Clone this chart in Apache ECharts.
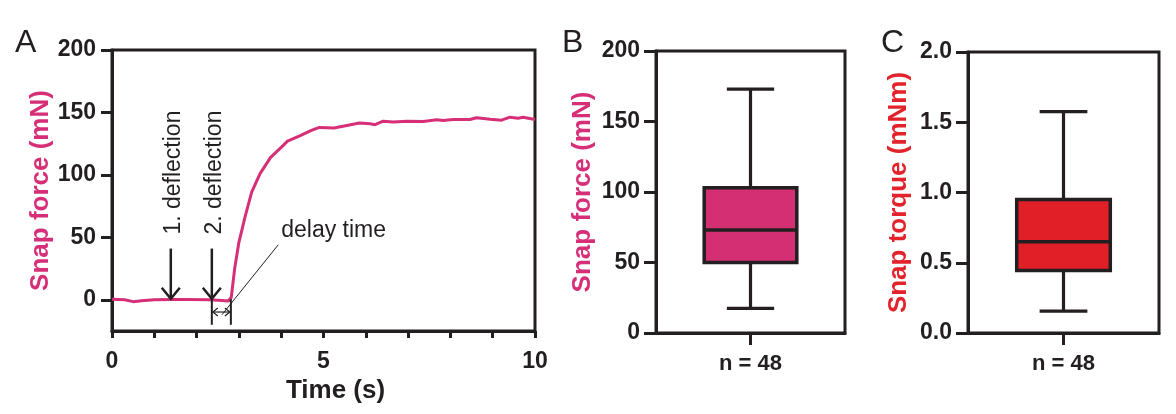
<!DOCTYPE html>
<html><head><meta charset="utf-8">
<script src="https://cdn.jsdelivr.net/npm/echarts@6/dist/echarts.min.js"></script>
<style>html,body{margin:0;padding:0;background:#fff}#c{width:1176px;height:414px}</style>
</head><body><div id="c"></div>
<script>
// ---- Data ----
const timeS   = [0, 0.3, 0.5, 0.7, 1.0, 1.4, 1.8, 2.3, 2.6, 2.75, 2.82, 2.9, 3.0, 3.15, 3.3, 3.5, 3.75, 4.0, 4.15, 4.45, 4.7, 4.9, 5.25, 5.55, 5.85, 6.1, 6.22, 6.41, 6.65, 6.97, 7.36, 7.68, 7.83, 8.07, 8.46, 8.62, 8.94, 9.21, 9.41, 9.6, 9.72, 10];
const forceMN = [0.5, 0, -1.5, -0.8, 0, 0.3, 0.2, 0, -0.5, -1, 2, 25, 46, 67, 86, 101, 114, 122, 127, 131.5, 135.5, 138, 137.5, 139.5, 141.5, 141, 140.2, 143, 142.3, 143, 142.8, 144.2, 143.6, 144.4, 144.4, 145.7, 144.6, 143.8, 146.2, 145.4, 146.2, 144.4];
const xTicksA = [0, 5, 10];
const yTicksA = [0, 50, 100, 150, 200];
const boxCategories = ['n = 48'];
// [min, Q1, median, Q3, max]
const snapForceBox  = [17.5, 50, 73, 103, 173];
const snapTorqueBox = [0.155, 0.445, 0.65, 0.95, 1.575];
// annotation anchors (data units of panel A)
const deflectionX = [1.39, 2.36];
const deflectionLabels = ['1. deflection', '2. deflection'];
const arrowTopMN = 41;
const delayX = [2.36, 2.81];
const delayLineBottomMN = -20;
const delayArrowMN = -9.8;
const leaderFrom = [2.6, -12];
const leaderTo = [3.93, 44];
const delayLabel = 'delay time';
const delayLabelAt = [4.0, 55.6];

// ---- Styles ----
const INK = '#231f20';
const FONT = '"Liberation Sans", Arial, Helvetica, sans-serif';
const MAGENTA = '#d62f78';
const BOX_B = '#d42f72';
const BOX_C = '#e11f27';
const NAME_C = '#e3232b';

function axisCommon() {
  return {
    axisLine: { show: true, onZero: false, lineStyle: { color: INK, width: 3 } },
    axisTick: { show: true, lineStyle: { color: INK, width: 3 } },
    axisLabel: { color: INK, fontFamily: FONT, fontWeight: 'bold', fontSize: 23 },
    splitLine: { show: false },
    nameTextStyle: { fontFamily: FONT, fontWeight: 'bold', fontSize: 26 }
  };
}

function boxRender() {
  return function (params, api) {
    const cat = api.value(0);
    const pMin = api.coord([cat, api.value(1)]);
    const pQ1 = api.coord([cat, api.value(2)]);
    const pMed = api.coord([cat, api.value(3)]);
    const pQ3 = api.coord([cat, api.value(4)]);
    const pMax = api.coord([cat, api.value(5)]);
    const band = api.size([1, 0])[0];
    const bw = band * 0.49, cw = band * 0.25;
    const cx = pMed[0];
    const ls = { stroke: INK, lineWidth: 3.2 };
    return {
      type: 'group',
      children: [
        { type: 'line', shape: { x1: cx, y1: pMax[1], x2: cx, y2: pQ3[1] }, style: ls },
        { type: 'line', shape: { x1: cx, y1: pQ1[1], x2: cx, y2: pMin[1] }, style: ls },
        { type: 'line', shape: { x1: cx - cw / 2, y1: pMax[1], x2: cx + cw / 2, y2: pMax[1] }, style: ls },
        { type: 'line', shape: { x1: cx - cw / 2, y1: pMin[1], x2: cx + cw / 2, y2: pMin[1] }, style: ls },
        { type: 'rect', shape: { x: cx - bw / 2, y: pQ3[1], width: bw, height: pQ1[1] - pQ3[1] },
          style: { fill: api.visual('color'), stroke: INK, lineWidth: 3.5 } },
        { type: 'line', shape: { x1: cx - bw / 2, y1: pMed[1], x2: cx + bw / 2, y2: pMed[1] }, style: { stroke: INK, lineWidth: 3.5 } }
      ]
    };
  };
}

function annotationRender(params, api) {
  const ch = [];
  const thick = { stroke: INK, lineWidth: 2.5 };
  deflectionX.forEach((x, i) => {
    const top = api.coord([x, arrowTopMN]);
    const tip = api.coord([x, 0]);
    ch.push({ type: 'line', shape: { x1: top[0], y1: top[1], x2: tip[0], y2: tip[1] - 1 }, style: thick });
    ch.push({ type: 'polyline', shape: { points: [[tip[0] - 9, tip[1] - 12], [tip[0], tip[1] - 1], [tip[0] + 9, tip[1] - 12]] }, style: { stroke: INK, lineWidth: 2.5, fill: null } });
    ch.push({ type: 'text', x: top[0] + 3, y: top[1] - 14, rotation: Math.PI / 2,
      style: { text: deflectionLabels[i], fill: INK, font: '23px ' + FONT, align: 'left', verticalAlign: 'middle' } });
  });
  delayX.forEach(x => {
    const a = api.coord([x, 0.5]);
    const b = api.coord([x, delayLineBottomMN]);
    ch.push({ type: 'line', shape: { x1: a[0], y1: a[1], x2: b[0], y2: b[1] }, style: { stroke: INK, lineWidth: 2 } });
  });
  const l = api.coord([delayX[0], delayArrowMN]);
  const r = api.coord([delayX[1], delayArrowMN]);
  const thin = { stroke: INK, lineWidth: 1.2, fill: null };
  ch.push({ type: 'line', shape: { x1: l[0] + 1, y1: l[1], x2: r[0] - 1, y2: r[1] }, style: thin });
  ch.push({ type: 'polyline', shape: { points: [[l[0] + 6, l[1] - 4], [l[0] + 1, l[1]], [l[0] + 6, l[1] + 4]] }, style: thin });
  ch.push({ type: 'polyline', shape: { points: [[r[0] - 6, r[1] - 4], [r[0] - 1, r[1]], [r[0] - 6, r[1] + 4]] }, style: thin });
  const f = api.coord(leaderFrom), t = api.coord(leaderTo);
  ch.push({ type: 'line', shape: { x1: f[0], y1: f[1], x2: t[0], y2: t[1] }, style: { stroke: INK, lineWidth: 1 } });
  const lp = api.coord(delayLabelAt);
  ch.push({ type: 'text', x: lp[0], y: lp[1],
    style: { text: delayLabel, fill: INK, font: '23px ' + FONT, align: 'left', verticalAlign: 'middle' } });
  return { type: 'group', children: ch };
}

const chart = echarts.init(document.getElementById('c'), null, { renderer: 'canvas' });
const letterStyle = { fontFamily: FONT, fontWeight: 'normal', fontSize: 32, color: INK };

const xA = Object.assign(axisCommon(), {
  gridIndex: 0, type: 'value', min: 0, max: 10, interval: 1,
  name: 'Time (s)', nameLocation: 'middle', nameGap: 38
});
xA.axisTick.length = 7;
xA.axisLabel.margin = 19;
xA.axisLabel.customValues = xTicksA;
xA.nameTextStyle.color = INK;
xA.nameTextStyle.padding = [0, 0, 0, 24];

const yA = Object.assign(axisCommon(), {
  gridIndex: 0, type: 'value', min: -25, max: 200,
  name: 'Snap force (mN)', nameLocation: 'middle', nameGap: 58
});
yA.axisTick.length = 11; yA.axisTick.customValues = yTicksA;
yA.axisLabel.margin = 16; yA.axisLabel.customValues = yTicksA;
yA.nameTextStyle.color = MAGENTA;

function catAxis(gi) {
  const a = Object.assign(axisCommon(), { gridIndex: gi, type: 'category', data: boxCategories });
  a.axisTick.length = 12; a.axisTick.alignWithLabel = true;
  a.axisLabel.margin = 20; a.axisLabel.fontSize = 22;
  return a;
}
const xB = catAxis(1), xC = catAxis(2);

const yB = Object.assign(axisCommon(), {
  gridIndex: 1, type: 'value', min: 0, max: 200, interval: 50,
  name: 'Snap force (mN)', nameLocation: 'middle', nameGap: 60
});
yB.axisTick.length = 12; yB.axisLabel.margin = 16; yB.nameTextStyle.color = MAGENTA;

const yC = Object.assign(axisCommon(), {
  gridIndex: 2, type: 'value', min: 0, max: 2, interval: 0.5,
  name: 'Snap torque (mNm)', nameLocation: 'middle', nameGap: 56
});
yC.axisTick.length = 12; yC.axisLabel.margin = 16; yC.axisLabel.formatter = v => v.toFixed(1);
yC.nameTextStyle.color = NAME_C;

chart.setOption({
  backgroundColor: '#ffffff',
  animation: false,
  title: [
    { text: 'A', left: 10, top: 22, textStyle: letterStyle },
    { text: 'B', left: 557, top: 22, textStyle: letterStyle },
    { text: 'C', left: 876, top: 22, textStyle: letterStyle }
  ],
  grid: [
    { left: 112, right: 641, top: 50, bottom: 83, show: true, borderColor: INK, borderWidth: 3, backgroundColor: 'transparent' },
    { left: 656, right: 331, top: 51, bottom: 81, show: true, borderColor: INK, borderWidth: 3, backgroundColor: 'transparent' },
    { left: 968, right: 17, top: 52, bottom: 81, show: true, borderColor: INK, borderWidth: 3, backgroundColor: 'transparent' }
  ],
  xAxis: [xA, xB, xC],
  yAxis: [yA, yB, yC],
  series: [
    {
      type: 'line', xAxisIndex: 0, yAxisIndex: 0, showSymbol: false, symbol: 'none',
      data: timeS.map((t, i) => [t, forceMN[i]]),
      lineStyle: { color: MAGENTA, width: 3 }, itemStyle: { color: MAGENTA }, z: 3
    },
    {
      type: 'custom', xAxisIndex: 0, yAxisIndex: 0, data: [[0, 0]],
      renderItem: annotationRender, z: 4, silent: true
    },
    {
      type: 'custom', xAxisIndex: 1, yAxisIndex: 1,
      data: [[0].concat(snapForceBox)], encode: { x: 0, y: [1, 2, 3, 4, 5] },
      itemStyle: { color: BOX_B }, renderItem: boxRender()
    },
    {
      type: 'custom', xAxisIndex: 2, yAxisIndex: 2,
      data: [[0].concat(snapTorqueBox)], encode: { x: 0, y: [1, 2, 3, 4, 5] },
      itemStyle: { color: BOX_C }, renderItem: boxRender()
    }
  ]
});
</script>
</body></html>
